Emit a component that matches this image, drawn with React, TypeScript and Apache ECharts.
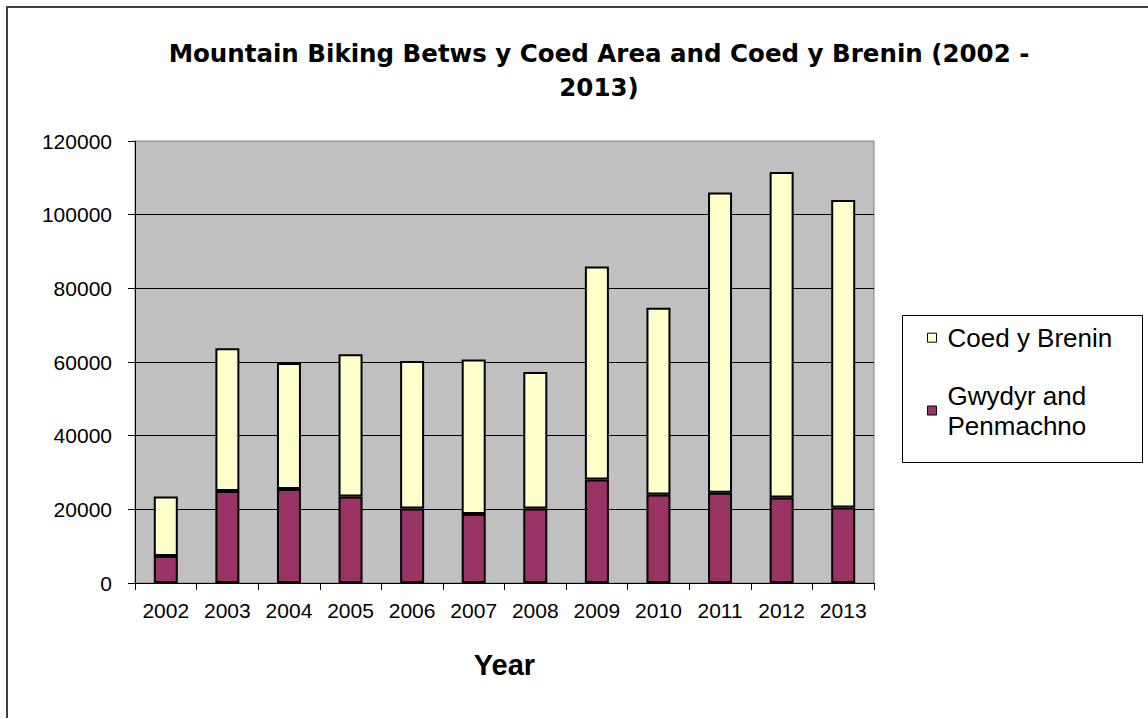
import React, { useEffect, useRef } from "react";
import * as echarts from "echarts";

const years = ["2002", "2003", "2004", "2005", "2006", "2007", "2008", "2009", "2010", "2011", "2012", "2013"];
const gwydyrPenmachno = [7300, 25000, 25500, 23500, 20200, 18700, 20200, 28100, 24000, 24500, 23200, 20500];
const coedYBrenin = [16200, 38700, 34200, 38600, 40100, 42000, 37100, 57800, 50700, 81500, 88400, 83500];
const yTicks = { min: 0, max: 120000, interval: 20000 };

const SERIES_A = "Coed y Brenin";
const SERIES_B = "Gwydyr and Penmachno";

export default function App() {
  const ref = useRef<HTMLDivElement>(null);
  useEffect(() => {
    if (!ref.current) return;
    const chart = echarts.init(ref.current, undefined, { renderer: "svg" });
    const labelFont = "'Liberation Sans', Arial, sans-serif";
    chart.setOption({
      animation: false,
      backgroundColor: "#ffffff",
      title: {
        text: "Mountain Biking Betws y Coed Area and Coed y Brenin (2002 -\n2013)",
        left: 599,
        top: 36,
        textAlign: "center",
        padding: 0,
        textStyle: {
          fontFamily: "'DejaVu Sans', sans-serif",
          fontWeight: "bold",
          fontSize: 24.5,
          lineHeight: 34,
          color: "#000",
        },
      },
      graphic: [
        {
          type: "polyline",
          shape: { points: [[7, 718], [7, 7], [1148, 7]] },
          style: { stroke: "#404040", lineWidth: 2, fill: "none" },
        },
        {
          type: "rect",
          shape: { x: 902.5, y: 315.5, width: 240, height: 147 },
          style: { fill: "none", stroke: "#000", lineWidth: 1 },
        },
      ],
      legend: [
        {
          data: [SERIES_A],
          left: 927,
          top: 324.7,
          padding: 0,
          orient: "vertical",
          itemWidth: 9,
          itemHeight: 9,
          icon: "rect",
          itemStyle: { borderColor: "#000", borderWidth: 1 },
          textStyle: { fontFamily: labelFont, fontSize: 26, lineHeight: 26, color: "#000", padding: [0, 0, 0, 6] },
        },
        {
          data: [SERIES_B],
          left: 927,
          top: 365.5,
          padding: 0,
          orient: "vertical",
          itemWidth: 9,
          itemHeight: 9,
          icon: "rect",
          itemStyle: { borderColor: "#000", borderWidth: 1 },
          formatter: () => "Gwydyr and\nPenmachno",
          textStyle: { fontFamily: labelFont, fontSize: 26, lineHeight: 30, color: "#000", padding: [30, 0, 0, 6] },
        },
      ],
      grid: {
        left: 135,
        top: 141,
        width: 739,
        height: 442,
        show: true,
        backgroundColor: "#C0C0C0",
        borderColor: "#808080",
        borderWidth: 1,
        containLabel: false,
      },
      xAxis: {
        type: "category",
        data: years,
        name: "Year",
        nameLocation: "middle",
        nameGap: 67,
        nameTextStyle: { fontFamily: labelFont, fontWeight: "bold", fontSize: 29, color: "#000" },
        axisLine: { show: true, lineStyle: { color: "#000", width: 1 } },
        axisTick: { show: true, length: 7, lineStyle: { color: "#000" } },
        axisLabel: { fontFamily: labelFont, fontSize: 21, color: "#000", margin: 17 },
        splitLine: { show: false },
      },
      yAxis: {
        type: "value",
        min: yTicks.min,
        max: yTicks.max,
        interval: yTicks.interval,
        axisLine: { show: true, lineStyle: { color: "#000", width: 1 } },
        axisTick: { show: true, length: 7, lineStyle: { color: "#000" } },
        axisLabel: {
          fontFamily: labelFont,
          fontSize: 21,
          color: "#000",
          margin: 23,
          formatter: (v: number) => String(v),
        },
        splitLine: { show: true, showMinLine: false, showMaxLine: false, lineStyle: { color: "#000", width: 1 } },
      },
      series: [
        {
          name: SERIES_B,
          type: "bar",
          stack: "total",
          data: gwydyrPenmachno,
          barWidth: 24,
          itemStyle: { color: "#993366", borderColor: "#000", borderWidth: 2 },
        },
        {
          name: SERIES_A,
          type: "bar",
          stack: "total",
          data: coedYBrenin,
          barWidth: 24,
          itemStyle: { color: "#FFFFCC", borderColor: "#000", borderWidth: 2 },
        },
      ],
    });
    return () => chart.dispose();
  }, []);
  return <div ref={ref} style={{ position: "fixed", left: 0, top: 0, width: 1148, height: 719 }} />;
}
